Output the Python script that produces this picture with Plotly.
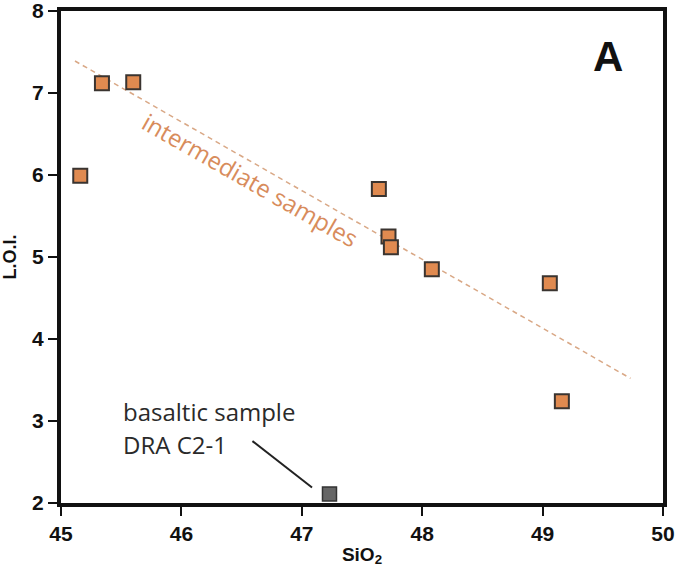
import plotly.graph_objects as go

# ---- data ----
sio2_intermediate = [45.16, 45.34, 45.60, 47.64, 47.72, 47.74, 48.08, 49.06, 49.16]
loi_intermediate = [5.99, 7.12, 7.13, 5.83, 5.25, 5.12, 4.85, 4.68, 3.24]
sio2_basaltic = [47.23]
loi_basaltic = [2.11]
trend_x = [45.116, 49.73]
trend_y = [7.39, 3.52]
x_ticks = [45, 46, 47, 48, 49, 50]
y_ticks = [2, 3, 4, 5, 6, 7, 8]

ORANGE = "#E08A50"
LABEL_ORANGE = "#D88C5C"
DASH_COL = "#D9A886"

fig = go.Figure()
fig.add_trace(go.Scatter(
    x=trend_x, y=trend_y, mode="lines",
    line=dict(color=DASH_COL, width=1.5, dash="5px,4px"),
    hoverinfo="skip", showlegend=False))
fig.add_trace(go.Scatter(
    x=sio2_intermediate, y=loi_intermediate, mode="markers",
    marker=dict(symbol="square", size=14, color=ORANGE,
                line=dict(color="#3A3430", width=2)),
    showlegend=False))
fig.add_trace(go.Scatter(
    x=sio2_basaltic, y=loi_basaltic, mode="markers",
    marker=dict(symbol="square", size=14, color="#666666",
                line=dict(color="#333333", width=1.5)),
    showlegend=False))

tickfont = dict(family="Liberation Sans, Arial", size=21, color="#111111", weight="bold")
axis_common = dict(
    showline=True, linewidth=4, linecolor="#111111", mirror=True,
    ticks="outside", ticklen=9, tickwidth=2, tickcolor="#111111",
    showgrid=False, zeroline=False, tickfont=tickfont, automargin=False,
    ticklabeloverflow="allow",
)
fig.update_xaxes(range=[45, 50], tickvals=x_ticks, ticktext=[str(v) for v in x_ticks],
                 title=dict(text="SiO<sub>2</sub>", standoff=4,
                            font=dict(family="Liberation Sans, Arial", size=19,
                                      color="#111111", weight="bold")),
                 **axis_common)
fig.update_yaxes(range=[2, 8], tickvals=y_ticks, ticktext=[str(v) for v in y_ticks],
                 title=dict(text="L.O.I.", standoff=12,
                            font=dict(family="Liberation Sans, Arial", size=18,
                                      color="#111111", weight="bold")),
                 **axis_common)

fig.add_annotation(x=46.57, y=5.95, xref="x", yref="y",
                   text="intermediate samples", showarrow=False, textangle=29.7,
                   font=dict(family="Open Sans", size=24, color=LABEL_ORANGE))
fig.add_annotation(x=49.54, y=7.44, xref="x", yref="y", text="A", showarrow=False,
                   font=dict(family="Liberation Sans, Arial", size=42, color="#111111",
                             weight="bold"))
fig.add_annotation(x=45.50, y=3.12, xref="x", yref="y", text="basaltic sample",
                   showarrow=False, xanchor="left", yanchor="middle",
                   font=dict(family="Open Sans", size=24, color="#2A2A2A"))
fig.add_annotation(x=45.50, y=2.71, xref="x", yref="y", text="DRA C2-1",
                   showarrow=False, xanchor="left", yanchor="middle",
                   font=dict(family="Open Sans", size=24, color="#2A2A2A"))
fig.add_shape(type="line", xref="x", yref="y", x0=46.59, y0=2.755, x1=47.085, y1=2.19,
              line=dict(color="#222222", width=2))

fig.update_layout(
    width=675, height=574,
    margin=dict(l=61, r=12, t=11, b=71),
    paper_bgcolor="white", plot_bgcolor="white",
)
fig.write_html("out.html", config={"displayModeBar": False},
               post_script="document.body.style.margin='0';")
